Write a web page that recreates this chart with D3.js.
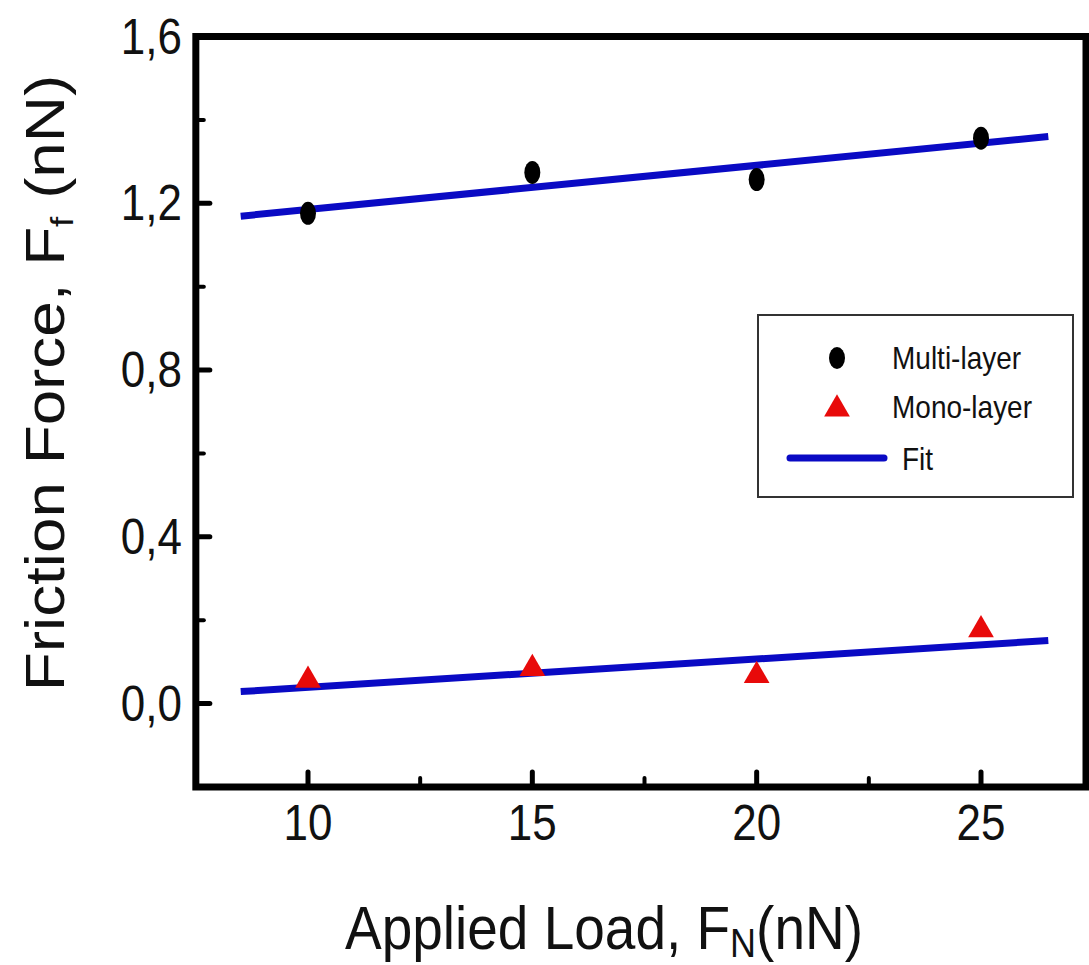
<!DOCTYPE html>
<html>
<head>
<meta charset="utf-8">
<script src="https://cdn.jsdelivr.net/npm/d3@7"></script>
<style>
  body { margin: 0; background: #fff; }
  svg text { font-family: "Liberation Sans", Arial, sans-serif; fill: #111; }
</style>
</head>
<body>
<svg id="chart"></svg>
<script>
// data
const loads = [10, 15, 20, 25];
const multiLayer = [1.176, 1.274, 1.257, 1.356];
const monoLayer = [0.056, 0.084, 0.067, 0.177];
// linear fits (slope, intercept), drawn between fitRange
const fitMulti = [0.0106, 1.079];
const fitMono = [0.0068, -0.029];
const fitRange = [8.5, 26.5];
const xTicks = [10, 15, 20, 25];
const xMinor = [12.5, 17.5, 22.5];
const yTicks = [0.0, 0.4, 0.8, 1.2, 1.6];
const yMinor = [-0.2, 0.2, 0.6, 1.0, 1.4];
const legendItems = ["Multi-layer", "Mono-layer", "Fit"];

const width = 1089, height = 965;
const stretch = 1.12; // the source image is a bit taller than wide

const svg = d3.select("#chart").attr("width", width).attr("height", height);

const x = d3.scaleLinear().domain([10, 25]).range([308, 981]);
const y = d3.scaleLinear().domain([-0.2, 1.6]).range([787, 36.5]);

const plotL = x(7.5), plotR = width - 3, plotT = y(1.6), plotB = y(-0.2);

// text helper that stretches vertically like the original bitmap
function label(g, tx, ty, size, anchor, rot, s) {
    s = s || stretch;
    return g.append("text")
        .attr("transform", `translate(${tx},${ty}) ${rot ? "rotate(" + rot + ")" : ""} scale(${rot ? s : 1},${rot ? 1 : s})`)
        .attr("text-anchor", anchor)
        .style("font-size", size + "px");
}

// fit lines
const fitLine = (f) => fitRange.map(v => [x(v), y(f[0] * v + f[1])]);
[fitMulti, fitMono].forEach(f => {
    svg.append("path")
        .attr("d", d3.line()(fitLine(f)))
        .attr("fill", "none")
        .attr("stroke", "#0a0ac4")
        .attr("stroke-width", 7);
});

// multi-layer points
svg.selectAll(".multi")
    .data(loads.map((l, i) => [l, multiLayer[i]]))
    .enter()
    .append("ellipse")
    .attr("cx", d => x(d[0]))
    .attr("cy", d => y(d[1]))
    .attr("rx", 8)
    .attr("ry", 11.5)
    .attr("fill", "#000");

// mono-layer points
const tri = d3.symbol().type(d3.symbolTriangle).size(260);
svg.selectAll(".mono")
    .data(loads.map((l, i) => [l, monoLayer[i]]))
    .enter()
    .append("path")
    .attr("d", tri)
    .attr("transform", d => `translate(${x(d[0])},${y(d[1])}) scale(1.05,1.05)`)
    .attr("fill", "#e80a0a");

// ticks (inward)
const tickG = svg.append("g").attr("stroke", "#000").attr("stroke-linecap", "round");
xTicks.forEach(v => tickG.append("line").attr("x1", x(v)).attr("x2", x(v)).attr("y1", plotB).attr("y2", plotB - 15).attr("stroke-width", 5));
xMinor.forEach(v => tickG.append("line").attr("x1", x(v)).attr("x2", x(v)).attr("y1", plotB).attr("y2", plotB - 9).attr("stroke-width", 4));
yTicks.forEach(v => tickG.append("line").attr("x1", plotL).attr("x2", plotL + 14).attr("y1", y(v)).attr("y2", y(v)).attr("stroke-width", 5));
yMinor.forEach(v => tickG.append("line").attr("x1", plotL).attr("x2", plotL + 8).attr("y1", y(v)).attr("y2", y(v)).attr("stroke-width", 4));

// frame
svg.append("rect")
    .attr("x", plotL).attr("y", plotT)
    .attr("width", plotR - plotL).attr("height", plotB - plotT)
    .attr("fill", "none")
    .attr("stroke", "#000")
    .attr("stroke-width", 7);

// tick labels
xTicks.forEach(v => label(svg, x(v), 840, 44, "middle").text(d3.format("d")(v)));
yTicks.forEach(v => label(svg, 182, y(v) + 17, 44, "end").text(d3.format(".1f")(v).replace(".", ",")));

// axis titles
const xt = label(svg, 604, 949, 55, "middle");
xt.append("tspan").text("Applied Load, F");
xt.append("tspan").attr("dy", 7).style("font-size", "36px").text("N");
xt.append("tspan").attr("dy", -7).text("(nN)");

const yt = label(svg, 64, 383, 55, "middle", -90, 1.16);
yt.append("tspan").text("Friction Force, F");
yt.append("tspan").attr("dy", 9).style("font-size", "32px").text("f");
yt.append("tspan").attr("dy", -9).text(" (nN)");

// legend
const lg = svg.append("g");
lg.append("rect")
    .attr("x", 758).attr("y", 315)
    .attr("width", 315).attr("height", 182)
    .attr("fill", "#fff")
    .attr("stroke", "#333")
    .attr("stroke-width", 2);
lg.append("ellipse").attr("cx", 837).attr("cy", 358).attr("rx", 8).attr("ry", 11).attr("fill", "#000");
lg.append("path").attr("d", tri).attr("transform", "translate(837,409) scale(1.05,1.05)").attr("fill", "#e80a0a");
lg.append("line").attr("x1", 790).attr("x2", 884).attr("y1", 458).attr("y2", 458)
    .attr("stroke", "#0a0ac4").attr("stroke-width", 7).attr("stroke-linecap", "round");
label(lg, 892, 369, 28, "start").text(legendItems[0]);
label(lg, 892, 418, 28, "start").text(legendItems[1]);
label(lg, 902, 470, 28, "start").text(legendItems[2]);
</script>
</body>
</html>
